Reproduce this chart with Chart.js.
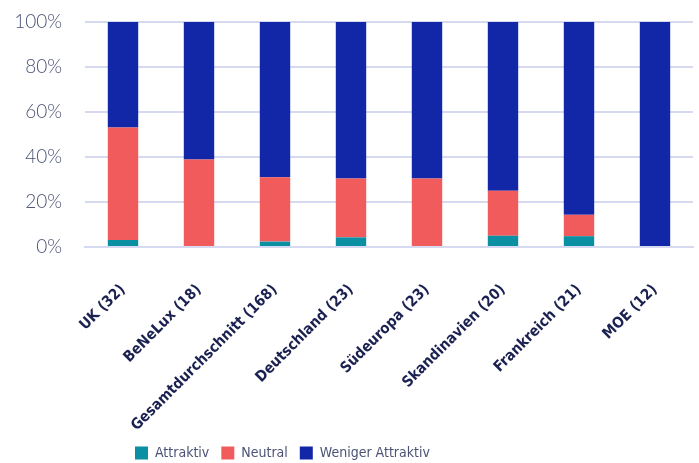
<!DOCTYPE html>
<html>
<head>
<meta charset="utf-8">
<script src="https://cdn.jsdelivr.net/npm/chart.js@4.4.1/dist/chart.umd.min.js"></script>
<style>
  html, body { margin: 0; padding: 0; background: #ffffff; }
  #wrap { width: 699px; height: 463px; }
</style>
</head>
<body>
<div id="wrap"><canvas id="c" width="699" height="463"></canvas></div>
<script>
// Regions with number of responses in brackets
const categories = ['UK (32)', 'BeNeLux (18)', 'Gesamtdurchschnitt (168)', 'Deutschland (23)',
                    'Südeuropa (23)', 'Skandinavien (20)', 'Frankreich (21)', 'MOE (12)'];

// Share of answers per region, in percent
const attraktiv        = [3.1, 0, 2.4, 4.3, 0, 5.0, 4.8, 0];
const neutral          = [50.0, 38.9, 28.6, 26.1, 30.4, 20.0, 9.5, 0];
const wenigerAttraktiv = [46.9, 61.1, 69.0, 69.6, 69.6, 75.0, 85.7, 100];

const yTicks = [0, 20, 40, 60, 80, 100];

const tickColor = '#4b5275';
const labelColor = '#1b2150';
const gridColor = '#d6daf0';
const condensed = "'DejaVu Sans Condensed', 'DejaVu Sans', sans-serif";

// Legend row starts at a fixed indent from the left edge
const legendIndent = {
  id: 'legendIndent',
  afterLayout(chart) {
    const d = 123;
    chart.legend.left += d;
    chart.legend.right += d;
  }
};

new Chart(document.getElementById('c'), {
  type: 'bar',
  data: {
    labels: categories,
    datasets: [
      { label: 'Attraktiv', data: attraktiv, backgroundColor: '#0b8fa2' },
      { label: 'Neutral', data: neutral, backgroundColor: '#f15b5c' },
      { label: 'Weniger Attraktiv', data: wenigerAttraktiv, backgroundColor: '#1226a8' }
    ]
  },
  plugins: [legendIndent],
  options: {
    responsive: false,
    animation: false,
    layout: { padding: { top: 22, right: 6, left: 0, bottom: 0 } },
    datasets: { bar: { categoryPercentage: 1, barPercentage: 0.4 } },
    plugins: {
      tooltip: { enabled: false },
      legend: {
        position: 'bottom',
        align: 'start',
        maxHeight: 29,
        labels: {
          boxWidth: 13,
          boxHeight: 13,
          padding: 12,
          color: tickColor,
          font: { family: condensed, size: 14, weight: 300 }
        }
      }
    },
    scales: {
      x: {
        stacked: true,
        grid: { display: false },
        border: { color: gridColor, width: 2 },
        ticks: {
          minRotation: 45,
          maxRotation: 45,
          autoSkip: false,
          padding: 26,
          color: labelColor,
          font: { family: condensed, size: 15, weight: 'bold' }
        },
        afterFit: (scale) => { scale.height = 187; }
      },
      y: {
        stacked: true,
        min: 0,
        max: 100,
        afterBuildTicks: (scale) => { scale.ticks = yTicks.map(v => ({ value: v })); },
        grid: { color: gridColor, lineWidth: 2, drawTicks: false },
        border: { display: false },
        ticks: {
          padding: 23,
          color: tickColor,
          font: { family: 'Lato', size: 19, weight: 300 },
          callback: (v) => v + '%'
        },
        afterFit: (scale) => {
          scale.width = 85;
          scale.paddingTop = 0;
          scale.paddingBottom = 0;
        }
      }
    }
  }
});
</script>
</body>
</html>
